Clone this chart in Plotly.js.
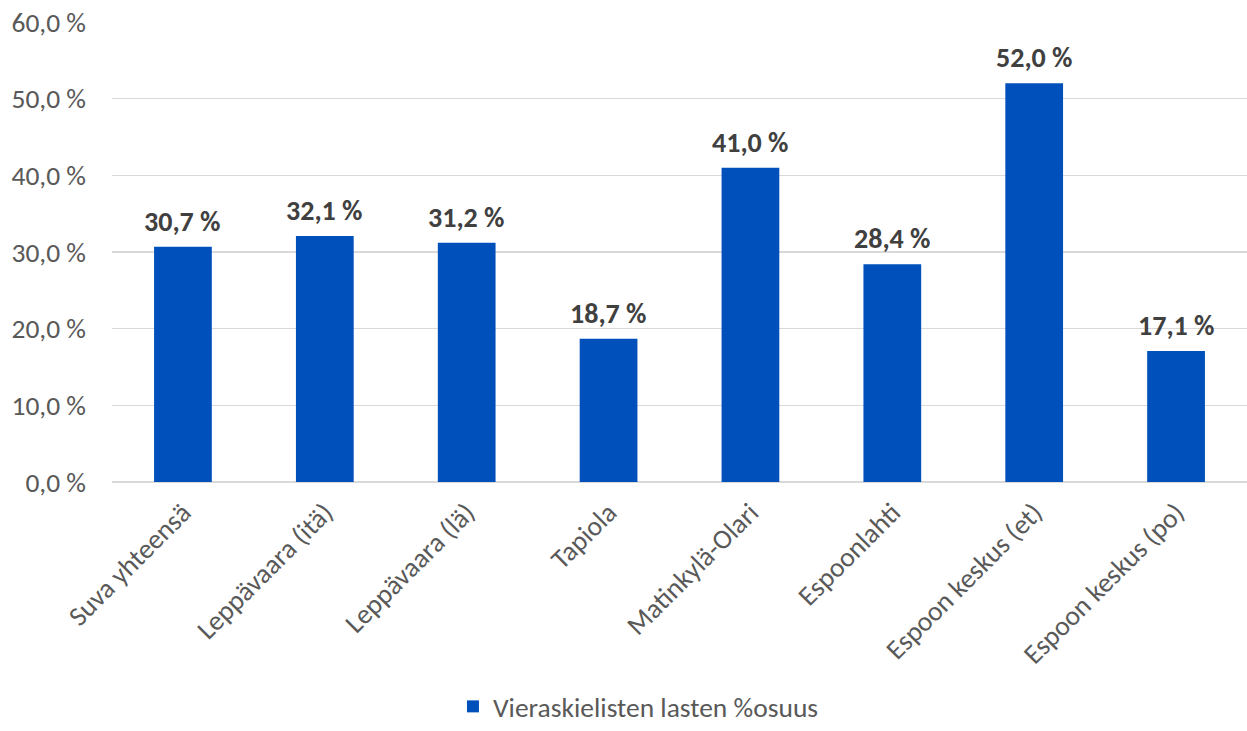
<!DOCTYPE html>
<html>
<head>
<meta charset="utf-8">
<script src="https://cdn.plot.ly/plotly-3.0.1.min.js"></script>
<style>html,body{margin:0;padding:0;background:#fff}#chart{width:1247px;height:731px}</style>
</head>
<body>
<div id="chart"></div>
<script>
const categories = ["Suva yhteensä", "Leppävaara (itä)", "Leppävaara (lä)", "Tapiola", "Matinkylä-Olari", "Espoonlahti", "Espoon keskus (et)", "Espoon keskus (po)"];
const values = [30.7, 32.1, 31.2, 18.7, 41.0, 28.4, 52.0, 17.1];
const seriesName = "Vieraskielisten lasten %osuus";
const yTicks = [0, 10, 20, 30, 40, 50, 60];

const fmt = v => v.toFixed(1).replace('.', ',') + ' %';
const FONT = 'Carlito, Open Sans, sans-serif';

const trace = {
  type: 'bar',
  x: categories,
  y: values,
  name: seriesName,
  marker: {color: '#0050BC'},
  hoverinfo: 'skip'
};

const annotations = categories.map((c, i) => ({
  x: c, y: values[i], xref: 'x', yref: 'y',
  text: fmt(values[i]), showarrow: false,
  yanchor: 'bottom', yshift: 6,
  font: {family: FONT, size: 28, color: '#404040', weight: 'bold'}
}));

const layout = {
  width: 1247, height: 731,
  margin: {l: 112, r: 0, t: 22, b: 249},
  paper_bgcolor: '#fff', plot_bgcolor: '#fff',
  bargap: 0.593,
  showlegend: true,
  annotations: annotations,
  font: {family: FONT, color: '#595959'},
  xaxis: {
    type: 'category',
    tickangle: -45,
    tickfont: {size: 27.5, color: '#595959'},
    showgrid: false,
    showline: false,
    ticks: '',
    automargin: false,
    ticklabelstandoff: 8,
    fixedrange: true
  },
  yaxis: {
    range: [0, 60],
    tickvals: yTicks,
    ticktext: yTicks.map(fmt),
    tickfont: {size: 27.5, color: '#595959'},
    gridcolor: '#d9d9d9',
    gridwidth: 1.5,
    zeroline: true,
    zerolinecolor: '#d9d9d9',
    zerolinewidth: 1.5,
    showline: false,
    ticks: '',
    automargin: false,
    ticklabelstandoff: 25,
    fixedrange: true
  },
  legend: {
    orientation: 'h',
    xref: 'container', yref: 'container',
    x: 0.512, xanchor: 'center',
    y: 0, yanchor: 'bottom',
    borderwidth: 0,
    font: {size: 27.5, color: '#595959'}
  }
};

Plotly.newPlot('chart', [trace], layout, {displayModeBar: false, staticPlot: true});
</script>
</body>
</html>
